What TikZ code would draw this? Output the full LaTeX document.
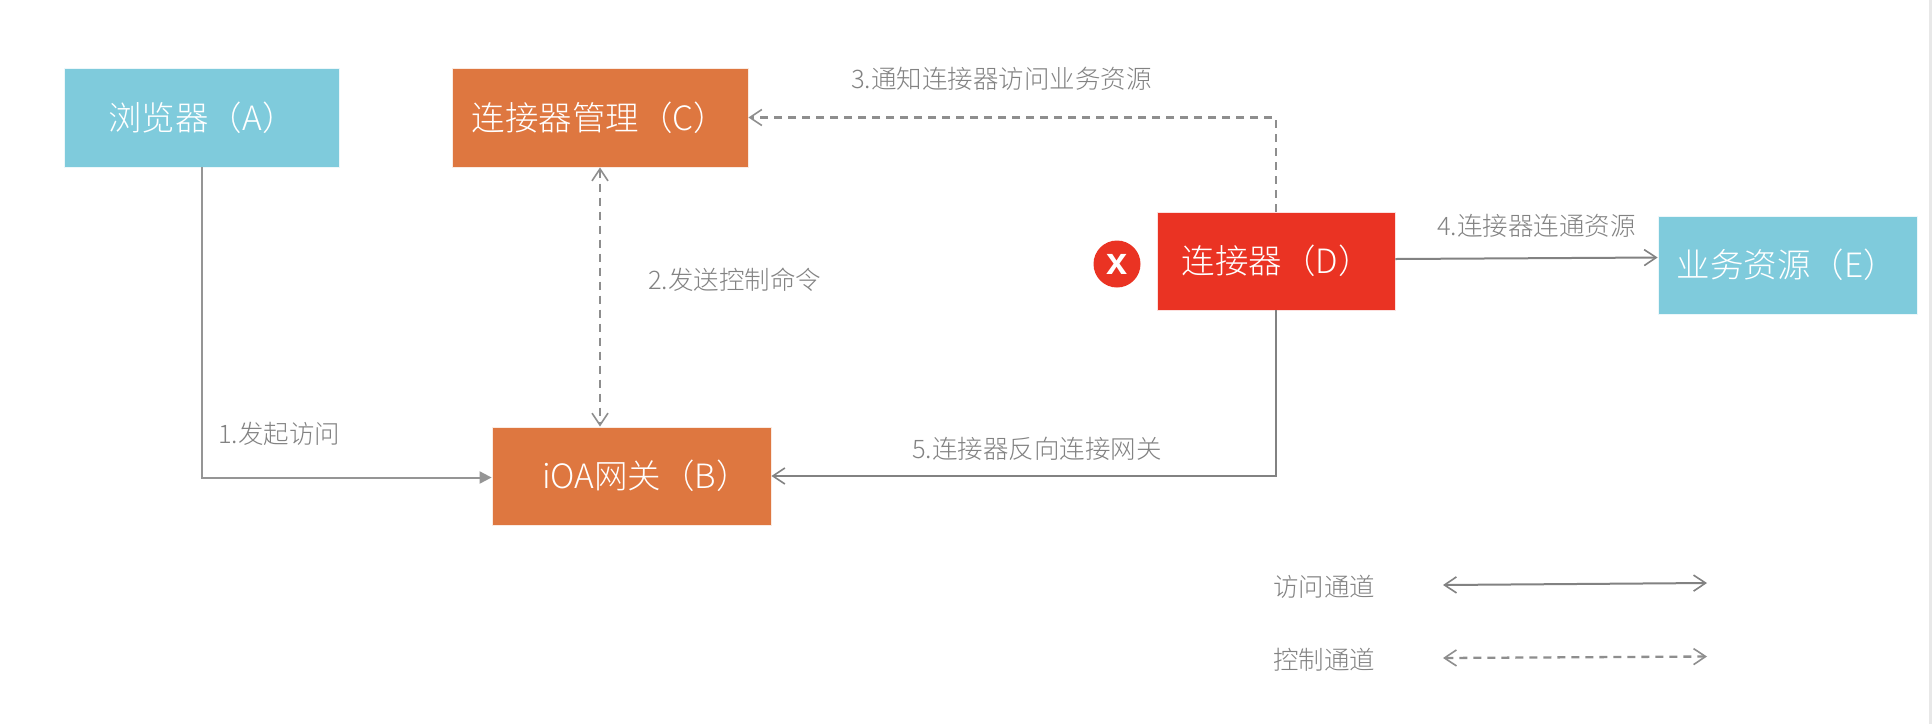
\documentclass[tikz,border=0pt]{standalone}
\usepackage{fontspec}
\setmainfont{Noto Sans CJK SC Light}
\newfontfamily\xfont{Liberation Sans}[BoldFont={* Bold}]
\usetikzlibrary{arrows.meta,positioning}
\definecolor{boxblue}{HTML}{7FCBDC}
\definecolor{boxorange}{HTML}{DE7740}
\definecolor{boxred}{HTML}{EA3323}
\definecolor{inkgrey}{HTML}{828282}
\definecolor{stripgrey}{HTML}{E8E8E8}
\newcommand{\off}[2]{\hspace*{#1pt}#2}
\tikzset{
  x=1pt,y=-1pt,
  boxnode/.style={fill=#1,draw=white!85!#1,line width=0.8pt,inner sep=0pt,text=white,
    font=\fontsize{33.5}{38}\selectfont,anchor=center},
  edgetext/.style={inner sep=0pt,anchor=west,text=inkgrey,font=\fontsize{25.5}{30}\selectfont},
  solidlink/.style={draw=inkgrey,line width=2pt,-{Straight Barb[length=12pt,width=16pt,line width=1.6pt]}},
  dashlink/.style={draw=inkgrey!90,line width=2.3pt,dash pattern=on 8pt off 6pt,
    -{Straight Barb[length=12pt,width=16pt,line width=1.6pt]}},
  filllink/.style={draw=inkgrey!85,line width=2pt,-{Triangle[length=12pt,width=12pt]}},
  both/.style={{Straight Barb[length=12pt,width=16pt,line width=1.6pt]}-{Straight Barb[length=12pt,width=16pt,line width=1.6pt]}},
}
\begin{document}
\begin{tikzpicture}
\useasboundingbox (0,0) rectangle (1932,724);
\fill[white] (0,0) rectangle (1932,724);
\fill[stripgrey] (1929,0) rectangle (1932,724);

\node[boxnode=boxblue,minimum width=275pt,minimum height=99pt] (A) at (201.5,117.5) {\off{1}{浏览器（A）}};
\node[boxnode=boxorange,minimum width=296pt,minimum height=99pt] (C) at (600,117.5) {\off{-1}{连接器管理（C）}};
\node[boxnode=boxorange,minimum width=279pt,minimum height=98pt] (B) at (631.5,476) {\off{29}{iOA网关（B）}};
\node[boxnode=boxred,minimum width=238pt,minimum height=98pt] (D) at (1276,261) {\off{1}{连接器（D）}};
\node[boxnode=boxblue,minimum width=259pt,minimum height=98pt] (E) at (1787.5,265) {\off{-1}{业务资源（E）}};

\node[circle,fill=boxred,minimum size=47pt,inner sep=0pt,text=white,font=\xfont\bfseries\fontsize{38}{38}\selectfont] (X) at (1117,264) {\raisebox{-6pt}{x}};

\node[edgetext] (L1) at (218,434) {1.发起访问};
\node[edgetext] (L2) at (648,280) {2.发送控制命令};
\node[edgetext] (L3) at (851,79) {3.通知连接器访问业务资源};
\node[edgetext] (L4) at (1437,226) {4.连接器连通资源};
\node[edgetext] (L5) at (912,449) {5.连接器反向连接网关};
\node[edgetext] (K1) at (1273,587) {访问通道};
\node[edgetext] (K2) at (1273,660) {控制通道};

\draw[filllink] (A.south) |- ([yshift=-1.5pt]B.west);
\draw[dashlink,both] (C.south) -- ([xshift=-31.5pt]B.north);
\draw[dashlink] (D.north) |- (C.east);
\draw[solidlink] ([yshift=2pt]D.east) -- ([yshift=7.5pt]E.west);
\draw[solidlink] (D.south) |- (B.east);

\coordinate (S1) at (1443,585);
\coordinate (S2) at (1707,583);
\coordinate (D1) at (1443,658);
\coordinate (D2) at (1707,656.5);
\draw[solidlink,both] (S1) -- (S2);
\draw[dashlink,both] (D1) -- (D2);
\end{tikzpicture}
\end{document}
